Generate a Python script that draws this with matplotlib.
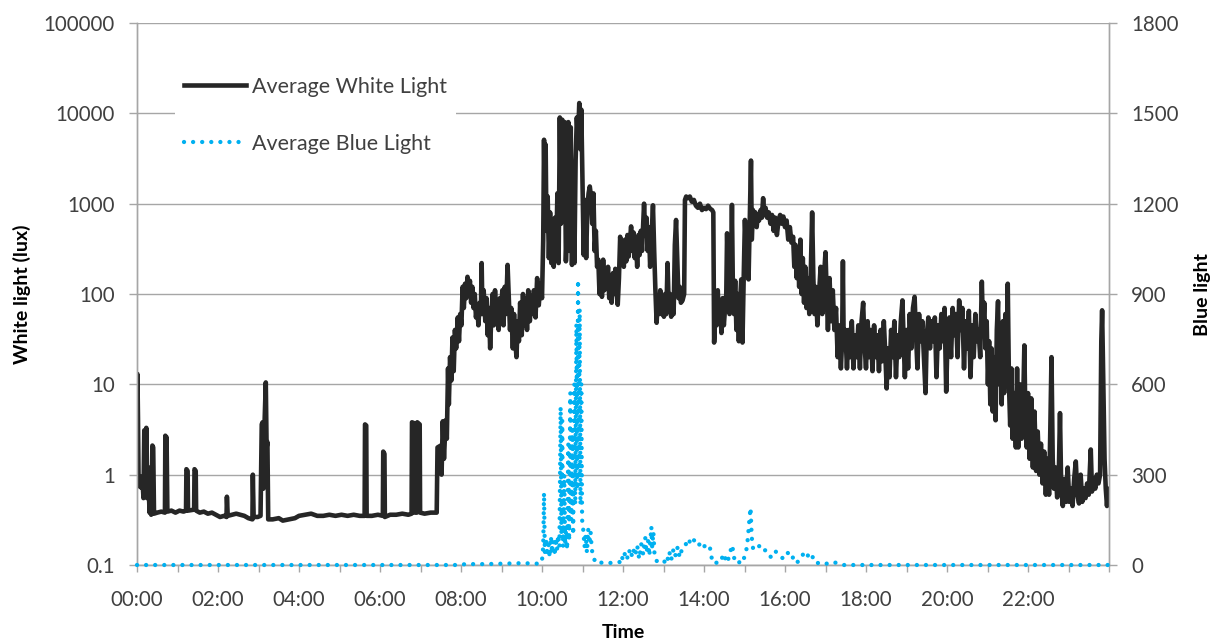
import matplotlib
matplotlib.use("Agg")
import matplotlib.pyplot as plt
from matplotlib.ticker import NullLocator

plt.rcParams['font.family'] = ['Lato', 'DejaVu Sans']

# ---------------- data (time in hours, white light in lux) ----------------
white_night = [
    (0.00, 0.75), (0.01, 13.0), (0.025, 4.0), (0.04, 0.75), (0.07, 0.95), (0.10, 0.72),
    (0.13, 0.95), (0.16, 0.55), (0.18, 3.1), (0.20, 0.6), (0.23, 3.3), (0.25, 0.55),
    (0.28, 0.95), (0.31, 0.38), (0.33, 1.2), (0.35, 0.36), (0.38, 2.1), (0.40, 2.0),
    (0.42, 0.37), (0.50, 0.38), (0.60, 0.39), (0.69, 0.38), (0.70, 2.7), (0.72, 0.4),
    (0.73, 2.6), (0.75, 0.39), (0.85, 0.40), (0.95, 0.38), (1.05, 0.40), (1.15, 0.39),
    (1.21, 0.40), (1.22, 1.15), (1.25, 1.1), (1.26, 0.40), (1.41, 0.41), (1.42, 1.15),
    (1.45, 1.1), (1.46, 0.40), (1.55, 0.38), (1.65, 0.39), (1.75, 0.37), (1.85, 0.38),
    (1.95, 0.36), (2.05, 0.34), (2.15, 0.35), (2.21, 0.34), (2.22, 0.57), (2.24, 0.35),
    (2.35, 0.36), (2.45, 0.37), (2.55, 0.36), (2.65, 0.35), (2.75, 0.33), (2.85, 0.32),
    (2.86, 1.0), (2.88, 0.34), (2.98, 0.34), (3.05, 0.35), (3.08, 3.6), (3.10, 3.8),
    (3.12, 0.7), (3.15, 3.8), (3.18, 10.5), (3.20, 2.0), (3.22, 2.3), (3.24, 0.32),
    (3.35, 0.32), (3.50, 0.33), (3.60, 0.31), (3.75, 0.32), (3.90, 0.33), (4.00, 0.35),
    (4.15, 0.36), (4.30, 0.37), (4.45, 0.35), (4.60, 0.35), (4.75, 0.36), (4.90, 0.35),
    (5.05, 0.36), (5.20, 0.35), (5.35, 0.36), (5.50, 0.35), (5.62, 0.35), (5.63, 3.6),
    (5.66, 3.5), (5.67, 0.35), (5.80, 0.35), (5.95, 0.36), (6.07, 0.35), (6.08, 1.8),
    (6.11, 1.7), (6.12, 0.34), (6.25, 0.36), (6.40, 0.36), (6.55, 0.37), (6.70, 0.36),
    (6.78, 0.37), (6.79, 3.8), (6.85, 3.7), (6.86, 0.38), (6.91, 0.38), (6.92, 3.8),
    (6.98, 3.6), (6.99, 0.38), (7.10, 0.37), (7.25, 0.38), (7.38, 0.38),
]

white_morning = [
    (7.40, 0.38), (7.42, 2.0), (7.50, 2.1), (7.52, 1.0), (7.55, 3.9), (7.58, 1.5),
    (7.62, 4.0), (7.65, 2.5), (7.68, 15), (7.70, 6), (7.73, 20), (7.76, 11),
    (7.79, 33), (7.82, 14), (7.85, 40), (7.88, 25), (7.92, 55), (7.95, 30),
    (7.98, 60), (8.01, 45), (8.04, 120), (8.07, 70), (8.10, 130), (8.13, 90),
    (8.16, 155), (8.19, 100), (8.22, 140), (8.25, 80), (8.28, 120), (8.31, 70),
    (8.34, 100), (8.37, 55), (8.40, 75), (8.43, 45), (8.46, 80), (8.49, 60),
    (8.51, 220), (8.53, 60), (8.56, 110), (8.60, 50), (8.63, 90), (8.66, 35),
    (8.69, 70), (8.72, 25), (8.75, 60), (8.78, 100), (8.81, 45), (8.84, 110),
    (8.87, 60), (8.90, 85), (8.93, 40), (8.96, 90), (8.99, 55), (9.02, 110),
    (9.05, 45), (9.08, 120), (9.11, 60), (9.15, 210), (9.18, 90), (9.21, 40),
    (9.24, 70), (9.28, 25), (9.31, 60), (9.34, 30), (9.37, 20), (9.40, 50),
    (9.43, 30), (9.46, 80), (9.50, 35), (9.53, 100), (9.56, 45), (9.60, 90),
    (9.63, 40), (9.66, 110), (9.70, 50), (9.73, 95), (9.76, 60), (9.80, 110),
    (9.84, 55), (9.88, 150), (9.92, 75), (9.96, 130), (10.00, 90),
]

white_peak = [
    (10.03, 400), (10.05, 5100), (10.07, 900), (10.09, 4500), (10.11, 500), (10.14, 1200),
    (10.17, 250), (10.20, 800), (10.23, 220), (10.26, 600), (10.29, 200), (10.32, 700),
    (10.35, 260), (10.38, 1300), (10.41, 220), (10.44, 9000), (10.47, 600), (10.50, 8500),
    (10.53, 2000), (10.56, 8000), (10.59, 230), (10.62, 600), (10.65, 8000), (10.68, 300),
    (10.71, 7000), (10.74, 210), (10.77, 1500), (10.80, 220), (10.83, 3000), (10.86, 9000),
    (10.89, 5000), (10.92, 13000), (10.95, 4000), (10.97, 11000), (11.00, 1800), (11.03, 270),
    (11.06, 1100), (11.09, 250), (11.12, 900), (11.15, 1300), (11.18, 1550), (11.21, 1200),
    (11.24, 600), (11.27, 1300), (11.30, 300), (11.33, 500), (11.36, 200), (11.39, 240),
    (11.42, 100), (11.45, 180), (11.48, 93), (11.51, 240), (11.54, 110), (11.57, 160),
    (11.60, 120),
]

white_midday = [
    (11.63, 200), (11.66, 90), (11.69, 150), (11.72, 80), (11.75, 170), (11.78, 100),
    (11.81, 190), (11.84, 110), (11.87, 76), (11.90, 150), (11.93, 430), (11.96, 250),
    (11.99, 310), (12.02, 200), (12.05, 400), (12.08, 230), (12.11, 450), (12.14, 260),
    (12.17, 380), (12.20, 560), (12.23, 300), (12.26, 480), (12.29, 250), (12.32, 400),
    (12.35, 200), (12.38, 450), (12.41, 270), (12.44, 500), (12.47, 300), (12.52, 1000),
    (12.55, 450), (12.58, 700), (12.61, 300), (12.64, 550), (12.67, 200), (12.70, 400),
    (12.74, 960), (12.77, 300), (12.80, 110), (12.83, 48), (12.86, 90), (12.89, 60),
    (12.92, 110), (12.95, 60), (12.98, 90), (13.01, 56), (13.04, 100), (13.07, 60),
    (13.10, 220), (13.13, 70), (13.16, 100), (13.19, 56), (13.22, 95), (13.25, 60),
    (13.28, 350), (13.31, 660), (13.34, 250), (13.37, 90), (13.40, 120), (13.43, 80),
    (13.47, 85), (13.51, 100), (13.53, 1100), (13.56, 1200), (13.60, 1150), (13.65, 1200),
    (13.70, 1050), (13.75, 1100), (13.80, 950), (13.85, 900), (13.90, 1000), (13.95, 850),
    (14.00, 900), (14.05, 870), (14.10, 950), (14.15, 880), (14.20, 850), (14.23, 800),
    (14.25, 29), (14.28, 60), (14.31, 45), (14.34, 110), (14.37, 50), (14.40, 80),
    (14.43, 37), (14.46, 90), (14.49, 45), (14.52, 70), (14.55, 100), (14.57, 470),
    (14.60, 120), (14.63, 60), (14.66, 90), (14.69, 970), (14.71, 150), (14.74, 60),
    (14.77, 140), (14.80, 40), (14.83, 100), (14.86, 30), (14.89, 80), (14.92, 145),
    (14.95, 29),
]

white_afternoon = [
    (14.98, 150), (15.01, 660), (15.04, 300), (15.07, 500), (15.10, 145), (15.13, 700),
    (15.16, 3000), (15.18, 400), (15.21, 850), (15.24, 600), (15.27, 800), (15.30, 550),
    (15.33, 750), (15.36, 650), (15.40, 850), (15.43, 700), (15.46, 1150), (15.49, 750),
    (15.52, 900), (15.56, 700), (15.60, 800), (15.64, 600), (15.68, 750), (15.72, 500),
    (15.76, 700), (15.80, 450), (15.84, 650), (15.88, 750), (15.92, 600), (15.96, 720),
    (16.00, 550), (16.04, 650), (16.08, 400), (16.12, 550), (16.16, 370), (16.20, 430),
    (16.23, 200), (16.26, 350), (16.29, 150), (16.32, 300), (16.35, 120), (16.38, 400),
    (16.41, 100), (16.44, 250), (16.47, 80), (16.50, 200), (16.53, 70), (16.56, 150),
    (16.60, 60), (16.64, 200), (16.67, 800), (16.70, 150), (16.73, 60), (16.76, 120),
    (16.80, 45), (16.84, 100), (16.88, 200), (16.92, 60), (16.96, 150), (17.00, 290),
    (17.03, 100), (17.06, 40), (17.10, 150), (17.14, 50), (17.18, 110), (17.22, 40),
    (17.26, 70), (17.30, 20), (17.34, 45), (17.38, 15), (17.41, 30), (17.43, 230),
    (17.45, 25), (17.49, 40), (17.53, 15), (17.57, 40), (17.61, 20), (17.65, 50),
    (17.69, 15), (17.73, 35), (17.77, 20), (17.81, 45), (17.85, 15), (17.89, 50),
    (17.93, 80), (17.96, 30), (18.00, 15), (18.04, 50), (18.08, 20), (18.12, 40),
    (18.16, 14), (18.20, 45), (18.24, 20), (18.28, 35), (18.32, 14), (18.36, 40),
    (18.40, 18), (18.44, 50), (18.48, 20), (18.51, 9), (18.54, 25), (18.58, 12),
    (18.62, 40), (18.66, 20), (18.70, 50), (18.74, 12), (18.78, 35), (18.82, 20),
    (18.86, 50), (18.90, 85), (18.93, 30), (18.96, 12), (19.00, 40),
]

white_evening = [
    (19.04, 15), (19.08, 60), (19.12, 25), (19.16, 70), (19.20, 93), (19.23, 40),
    (19.27, 15), (19.31, 60), (19.35, 30), (19.39, 50), (19.43, 20), (19.47, 8),
    (19.50, 35), (19.54, 55), (19.58, 25), (19.62, 50), (19.66, 30), (19.70, 55),
    (19.74, 12), (19.78, 45), (19.82, 25), (19.86, 60), (19.90, 30), (19.94, 70),
    (19.98, 8.3), (20.02, 40), (20.06, 55), (20.10, 20), (20.14, 70), (20.18, 35),
    (20.22, 60), (20.26, 20), (20.30, 85), (20.34, 40), (20.38, 70), (20.42, 15),
    (20.46, 50), (20.50, 25), (20.54, 65), (20.58, 12), (20.62, 45), (20.66, 20),
    (20.70, 60), (20.74, 30), (20.78, 40), (20.82, 20), (20.86, 137), (20.89, 40),
    (20.92, 80), (20.95, 25), (20.98, 50), (21.01, 10), (21.04, 30), (21.07, 6),
    (21.10, 25), (21.13, 5), (21.16, 20), (21.20, 4), (21.23, 40), (21.26, 83),
    (21.29, 10), (21.32, 30), (21.35, 6), (21.38, 50), (21.41, 8), (21.44, 60),
    (21.47, 20), (21.50, 130), (21.53, 10), (21.56, 3.5), (21.59, 15), (21.62, 2.5),
    (21.66, 8), (21.70, 2), (21.73, 15), (21.76, 2), (21.80, 10), (21.84, 2.5),
    (21.88, 6), (21.91, 27), (21.94, 3), (21.97, 2), (22.00, 8), (22.04, 1.5),
    (22.08, 7), (22.12, 1.2), (22.16, 5), (22.20, 1.1), (22.24, 3), (22.28, 1.0),
    (22.32, 2.2), (22.36, 0.8), (22.40, 1.8), (22.44, 0.6), (22.48, 1.5), (22.52, 0.6),
    (22.55, 3), (22.58, 20), (22.61, 1.5), (22.64, 0.7), (22.68, 1.2), (22.72, 0.56),
    (22.76, 1.0), (22.79, 4.8), (22.82, 0.7), (22.86, 0.45), (22.90, 0.9), (22.94, 0.5),
    (22.98, 1.2), (23.02, 0.5), (23.06, 0.7), (23.10, 0.45), (23.14, 0.9), (23.18, 1.4),
    (23.22, 0.6), (23.26, 0.48), (23.30, 1.0), (23.34, 0.5), (23.38, 0.7), (23.42, 0.55),
    (23.46, 0.8), (23.50, 0.6), (23.55, 1.9), (23.58, 0.65), (23.62, 0.9), (23.66, 0.7),
    (23.70, 1.0), (23.74, 0.8), (23.78, 1.0), (23.81, 30), (23.83, 66), (23.86, 10),
    (23.89, 1.5), (23.92, 0.7), (23.95, 0.45), (23.98, 0.7), (24.00, 0.6),
]

# ---------------- data (time in hours, blue light) ----------------
blue_early = [
    (0.0, 0), (7.9, 0), (8.0, 2), (8.3, 3), (8.6, 3), (8.9, 4), (9.2, 5), (9.5, 6),
    (9.8, 5), (9.95, 4), (10.0, 15),
]

blue_peak = [
    (10.03, 60), (10.05, 240), (10.07, 40), (10.10, 90), (10.13, 30), (10.16, 70),
    (10.19, 25), (10.22, 95), (10.25, 40), (10.28, 80), (10.31, 30), (10.34, 90),
    (10.37, 50), (10.40, 100), (10.43, 60), (10.46, 525), (10.48, 100), (10.50, 480),
    (10.52, 60), (10.55, 300), (10.57, 65), (10.60, 130), (10.62, 50), (10.65, 400),
    (10.67, 80), (10.70, 572), (10.72, 150), (10.75, 450), (10.77, 100), (10.80, 600),
    (10.82, 200), (10.85, 800), (10.87, 250), (10.89, 947), (10.91, 300), (10.93, 850),
    (10.95, 200), (10.97, 600), (10.99, 150), (11.02, 115), (11.05, 60), (11.08, 100),
    (11.11, 40), (11.14, 120), (11.17, 70), (11.20, 110), (11.23, 50), (11.26, 35),
    (11.30, 15), (11.35, 5), (11.45, 8), (11.60, 6), (11.80, 8), (11.93, 10),
    (11.97, 30), (12.00, 15),
]

blue_afternoon = [
    (12.05, 40), (12.10, 20), (12.15, 50), (12.20, 25), (12.25, 55), (12.30, 30),
    (12.35, 65), (12.40, 20), (12.45, 70), (12.50, 35), (12.55, 90), (12.58, 40),
    (12.62, 80), (12.65, 30), (12.70, 127), (12.72, 60), (12.75, 110), (12.78, 30),
    (12.82, 15), (12.88, 8), (12.95, 5), (13.02, 10), (13.08, 30), (13.12, 15),
    (13.16, 45), (13.20, 20), (13.25, 55), (13.30, 30), (13.35, 60), (13.40, 25),
    (13.45, 50), (13.50, 65), (13.55, 70), (13.60, 60), (13.65, 80), (13.70, 70),
    (13.75, 83), (13.80, 70), (13.85, 75), (13.90, 65), (13.95, 72), (14.00, 60),
    (14.05, 70), (14.10, 65), (14.15, 55), (14.20, 15), (14.25, 5), (14.30, 8),
    (14.35, 5), (14.40, 10), (14.45, 25), (14.50, 10), (14.55, 35), (14.60, 20),
    (14.65, 45), (14.70, 66), (14.73, 30), (14.78, 8), (14.83, 5), (14.88, 10),
    (14.93, 5), (14.98, 20), (15.02, 35), (15.06, 60), (15.09, 100), (15.12, 150),
    (15.15, 190), (15.17, 120), (15.19, 70), (15.22, 50), (15.27, 55), (15.32, 60),
    (15.37, 63), (15.42, 55), (15.47, 45), (15.52, 50), (15.57, 40), (15.62, 30),
    (15.67, 25), (15.72, 40), (15.77, 45), (15.82, 35), (15.87, 30), (15.92, 25),
    (15.97, 20), (16.02, 30), (16.07, 40), (16.12, 25), (16.17, 20), (16.22, 30),
    (16.27, 15), (16.32, 10), (16.37, 20), (16.42, 30), (16.47, 40), (16.52, 45),
    (16.57, 30), (16.62, 20), (16.67, 30), (16.72, 15), (16.77, 5), (16.85, 8),
    (16.95, 3), (17.05, 5), (17.20, 10), (17.30, 5), (17.45, 0), (24.0, 0),
]

x_tick_labels = ['00:00', '02:00', '04:00', '06:00', '08:00', '10:00',
                 '12:00', '14:00', '16:00', '18:00', '20:00', '22:00']
left_ticks = [0.1, 1, 10, 100, 1000, 10000, 100000]
left_tick_labels = ['0.1', '1', '10', '100', '1000', '10000', '100000']
right_ticks = [0, 300, 600, 900, 1200, 1500, 1800]

# ---------------- plotting ----------------
white = white_night + white_morning + white_peak + white_midday + white_afternoon + white_evening
blue = blue_early + blue_peak + blue_afternoon
wt = [p[0] for p in white]
wv = [p[1] for p in white]
bt = [p[0] for p in blue]
bv = [p[1] for p in blue]

W, H = 1215, 642
fig = plt.figure(figsize=(W / 100, H / 100), dpi=100)
L, R, T, B = 137, 1109, 23, 565
ax = fig.add_axes([L / W, 1 - B / H, (R - L) / W, (B - T) / H])

GRID = '#a6a6a6'
TXT = '#404040'

line_w, = ax.plot(wt, wv, color='#262626', lw=3.3, solid_joinstyle='round',
                  label='Average White Light', zorder=3)
ax.set_yscale('log')
ax.set_ylim(0.1, 100000)
ax.set_xlim(0, 24)
ax.set_yticks(left_ticks, labels=left_tick_labels)
ax.yaxis.set_minor_locator(NullLocator())
ax.set_xticks(range(25), labels=[x_tick_labels[i // 2] if (i % 2 == 0 and i < 24) else ''
                                for i in range(25)])
ax.grid(axis='y', color=GRID, lw=1.0)
ax.set_axisbelow(True)

ax2 = ax.twinx()
line_b, = ax2.plot(bt, bv, color='#00B0F0', lw=3.1, linestyle=(0, (0.01, 2.1)),
                   dash_capstyle='round', clip_on=False, zorder=4,
                   label='Average Blue Light')
ax2.set_ylim(0, 1800)
ax2.set_yticks(right_ticks)

for a in (ax, ax2):
    a.spines['top'].set_visible(False)
    for s in ('left', 'right', 'bottom'):
        a.spines[s].set_color(GRID)
        a.spines[s].set_linewidth(1.0)

ax.tick_params(axis='y', direction='out', length=6, width=1, color=GRID,
               labelsize=14.8, labelcolor=TXT, pad=10)
ax.tick_params(axis='x', direction='out', length=5, width=1, color=GRID,
               labelsize=14.8, labelcolor=TXT, pad=13)
ax2.tick_params(axis='y', direction='out', length=6, width=1, color=GRID,
                labelsize=14.8, labelcolor=TXT, pad=10)

ax.set_ylabel('White light (lux)', fontsize=14, fontweight='bold', color='black',
              va='center', ha='center')
ax.yaxis.set_label_coords((22 - L) / (R - L), 0.5)
ax2.set_ylabel('Blue light', fontsize=14, fontweight='bold', color='black',
               va='center', ha='center', rotation=90)
ax2.yaxis.set_label_coords((1203 - L) / (R - L), 0.5)
ax.set_xlabel('Time', fontsize=14, fontweight='bold', color='black',
              va='center', ha='center')
ax.xaxis.set_label_coords(0.5, (B - 633) / (B - T))

leg = ax2.legend(handles=[line_w, line_b], loc='upper left',
                 bbox_to_anchor=((175 - L) / (R - L), 1 - (68 - T) / (B - T)),
                 frameon=True, fancybox=False, edgecolor='none', facecolor='white',
                 framealpha=1, fontsize=15.5, handlelength=2.9, handletextpad=0.3,
                 labelspacing=1.72, borderpad=0.4, borderaxespad=0)
for txt in leg.get_texts():
    txt.set_color(TXT)
leg.set_zorder(10)

fig.savefig('out.png', dpi=100)
